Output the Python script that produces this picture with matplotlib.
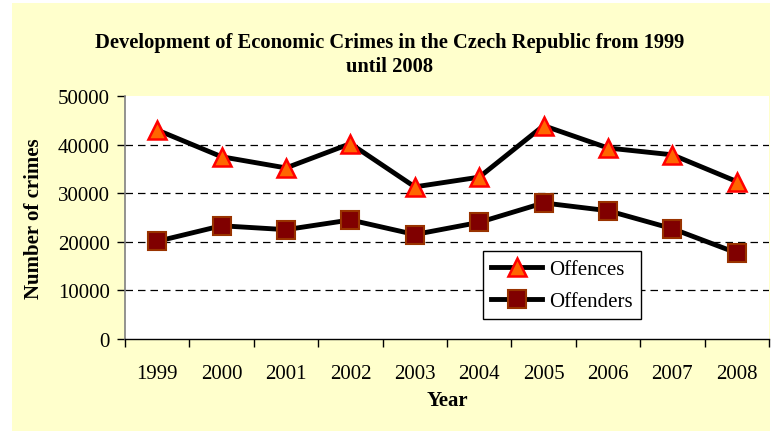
import matplotlib
matplotlib.use("Agg")
import matplotlib.pyplot as plt
from matplotlib.patches import Rectangle

years = ["1999", "2000", "2001", "2002", "2003", "2004", "2005", "2006", "2007", "2008"]
offences = [43000, 37500, 35200, 40200, 31300, 33300, 43900, 39300, 37900, 32400]
offenders = [20100, 23300, 22500, 24500, 21500, 24000, 28000, 26400, 22700, 17700]
yticks = [0, 10000, 20000, 30000, 40000, 50000]

plt.rcParams['font.family'] = ['Liberation Serif', 'DejaVu Serif']
FS = 15

fig = plt.figure(figsize=(7.75, 4.35), dpi=100)
fig.patch.set_facecolor('white')
fig.patches.append(Rectangle((12/775, 3/435), (770-12)/775, (431-3)/435,
                             transform=fig.transFigure, facecolor='#FFFFCC',
                             edgecolor='none', zorder=-5))

ax = fig.add_axes([125/775, 1-340/435, (769-125)/775, (340-97)/435])
ax.set_zorder(2)
ax.set_facecolor('white')
x = list(range(len(years)))
ax.plot(x, offences, color='black', lw=3.5, marker='^', ms=13.5,
        mfc='#FF6600', mec='#FF0000', mew=1.8, label='Offences', zorder=3)
ax.plot(x, offenders, color='black', lw=3.5, marker='s', ms=12.5,
        mfc='#800000', mec='#993300', mew=1.5, label='Offenders', zorder=3)

ax.set_xlim(-0.5, len(years) - 0.5)
ax.set_ylim(0, 50000)
ax.set_yticks(yticks)
ax.set_yticklabels([str(v) for v in yticks], fontsize=FS)
ax.set_xticks([i - 0.5 for i in range(len(years) + 1)], minor=False)
ax.set_xticklabels([])
ax.set_xticks(x, minor=True)
ax.set_xticklabels(years, minor=True, fontsize=FS)
ax.tick_params(axis='x', which='minor', length=0, pad=18)
ax.tick_params(axis='x', which='major', length=6, width=1, color='black', direction='out')
ax.tick_params(axis='y', length=6, width=1, color='black', direction='out', pad=5)

for v in yticks[1:-1]:
    ax.axhline(v, color='black', lw=0.9, ls=(0, (6, 4)), zorder=1)

ax.spines['top'].set_visible(False)
ax.spines['right'].set_visible(False)
ax.spines['left'].set_color('#808080')
ax.spines['left'].set_linewidth(1.2)
ax.spines['bottom'].set_color('black')
ax.spines['bottom'].set_linewidth(1)

ax.set_xlabel('Year', fontsize=FS, fontweight='bold', labelpad=5)
ax.set_ylabel('Number of crimes', fontsize=FS, fontweight='bold', labelpad=10)

fig.text(390/775, 1-43/435, 'Development of Economic Crimes in the Czech Republic from 1999',
         ha='center', va='center', fontsize=14.8, fontweight='bold')
fig.text(390/775, 1-67/435, 'until 2008', ha='center', va='center',
         fontsize=14.8, fontweight='bold')

leg = ax.legend(loc='upper left', bbox_to_anchor=((483-125)/644, (340-252)/243),
                fontsize=FS, frameon=True, fancybox=False, framealpha=1,
                edgecolor='black', handlelength=2.45, handletextpad=0.3,
                borderpad=0.4, labelspacing=0.6, borderaxespad=0)
leg.get_frame().set_linewidth(1)

fig.savefig('out.png', dpi=100, facecolor=fig.get_facecolor())
